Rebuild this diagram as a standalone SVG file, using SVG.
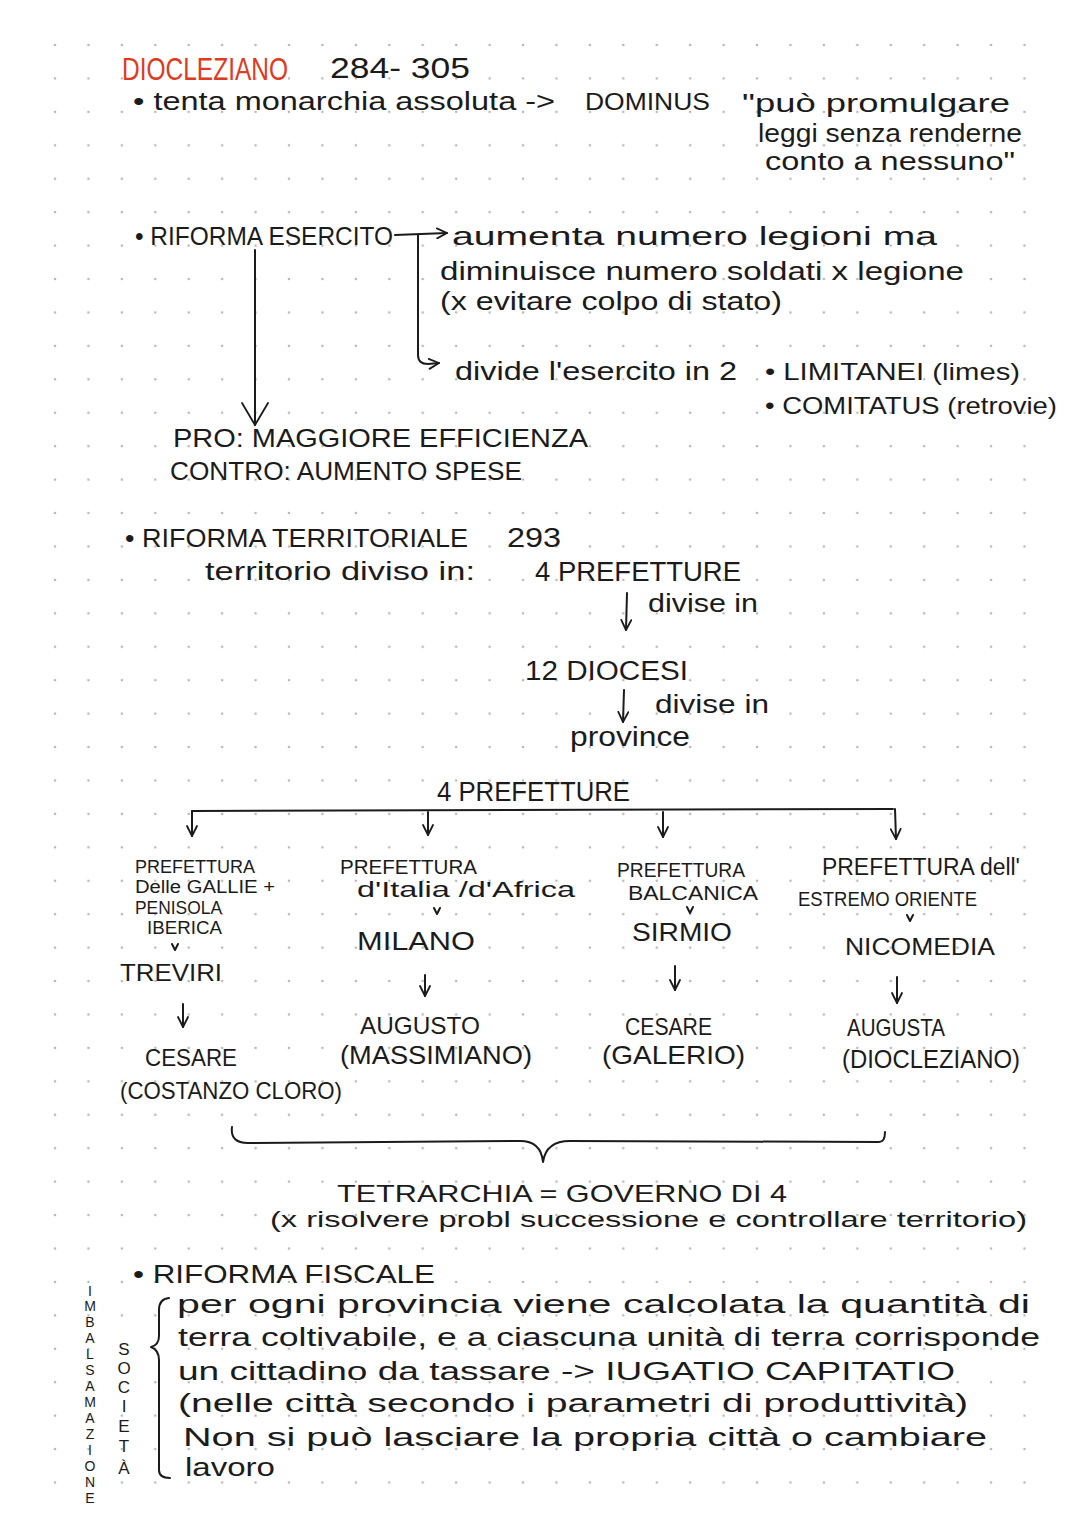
<svg xmlns="http://www.w3.org/2000/svg" width="1080" height="1527" viewBox="0 0 1080 1527">
<defs>
<style>
text{font-family:"Liberation Sans",Arial,sans-serif;fill:#1b1b1b}
.r{fill:#dd3b24}
.c{fill:none;stroke:#1b1b1b;stroke-width:2;stroke-linecap:round;stroke-linejoin:round}
.v{text-anchor:middle}
</style>
<pattern id="dots" patternUnits="userSpaceOnUse" x="38.3" y="28.3" width="33.43" height="33.43">
<circle cx="16.7" cy="16.7" r="1.3" fill="#b8b8b8"/>
</pattern>
<marker id="ah" viewBox="0 0 12 12" refX="11" refY="6" markerWidth="12" markerHeight="12" markerUnits="userSpaceOnUse" orient="auto">
<path d="M1,1 L11,6 L1,11" fill="none" stroke="#1b1b1b" stroke-width="1.8" stroke-linecap="round" stroke-linejoin="round"/>
</marker>
<marker id="ahL" viewBox="0 0 24 28" refX="23" refY="14" markerWidth="24" markerHeight="28" markerUnits="userSpaceOnUse" orient="auto">
<path d="M1,1 L23,14 L1,27" fill="none" stroke="#1b1b1b" stroke-width="1.8" stroke-linecap="round" stroke-linejoin="round"/>
</marker>
</defs>
<rect width="1080" height="1527" fill="#ffffff"/>
<rect x="38.3" y="28.3" width="1003" height="1471" fill="url(#dots)"/>

<g id="header">
<text class="r" x="122" y="80" font-size="32" textLength="166" lengthAdjust="spacingAndGlyphs">DIOCLEZIANO</text>
<text x="330" y="78" font-size="30" textLength="140" lengthAdjust="spacingAndGlyphs">284- 305</text>
</g>
<g id="monarchia">
<text x="133" y="110" font-size="26" textLength="422" lengthAdjust="spacingAndGlyphs">• tenta monarchia assoluta -&gt;</text>
<text x="585" y="110" font-size="24" textLength="125" lengthAdjust="spacingAndGlyphs">DOMINUS</text>
<text x="742" y="112" font-size="26" textLength="268" lengthAdjust="spacingAndGlyphs">"può promulgare</text>
<text x="758" y="142" font-size="25" textLength="264" lengthAdjust="spacingAndGlyphs">leggi senza renderne</text>
<text x="765" y="170" font-size="25" textLength="250" lengthAdjust="spacingAndGlyphs">conto a nessuno"</text>
</g>

<g id="esercito">
<text x="135" y="245" font-size="26" textLength="258" lengthAdjust="spacingAndGlyphs">• RIFORMA ESERCITO</text>
</g>
<g id="legioni">
<text x="452" y="245" font-size="26" textLength="485" lengthAdjust="spacingAndGlyphs">aumenta numero legioni ma</text>
<text x="440" y="280" font-size="26" textLength="524" lengthAdjust="spacingAndGlyphs">diminuisce numero soldati x legione</text>
<text x="440" y="310" font-size="26" textLength="342" lengthAdjust="spacingAndGlyphs">(x evitare colpo di stato)</text>
</g>
<g id="divide">
<text x="455" y="380" font-size="26" textLength="282" lengthAdjust="spacingAndGlyphs">divide l'esercito in 2</text>
<text x="765" y="380" font-size="24" textLength="255" lengthAdjust="spacingAndGlyphs">• LIMITANEI (limes)</text>
<text x="765" y="414" font-size="24" textLength="292" lengthAdjust="spacingAndGlyphs">• COMITATUS (retrovie)</text>
</g>
<g id="procontro">
<text x="173" y="447" font-size="25" textLength="415" lengthAdjust="spacingAndGlyphs">PRO: MAGGIORE EFFICIENZA</text>
<text x="170" y="480" font-size="25" textLength="352" lengthAdjust="spacingAndGlyphs">CONTRO: AUMENTO SPESE</text>
</g>

<g id="territoriale">
<text x="125" y="547" font-size="25" textLength="343" lengthAdjust="spacingAndGlyphs">• RIFORMA TERRITORIALE</text>
<text x="507" y="547" font-size="28" textLength="54" lengthAdjust="spacingAndGlyphs">293</text>
<text x="205" y="580" font-size="26" textLength="270" lengthAdjust="spacingAndGlyphs">territorio diviso in:</text>
</g>
<g id="prefetture1">
<text x="535" y="581" font-size="27" textLength="206" lengthAdjust="spacingAndGlyphs">4 PREFETTURE</text>
<text x="648" y="612" font-size="26" textLength="110" lengthAdjust="spacingAndGlyphs">divise in</text>
</g>
<g id="diocesi">
<text x="525" y="680" font-size="27" textLength="163" lengthAdjust="spacingAndGlyphs">12 DIOCESI</text>
<text x="655" y="713" font-size="26" textLength="114" lengthAdjust="spacingAndGlyphs">divise in</text>
</g>
<g id="province">
<text x="570" y="746" font-size="28" textLength="120" lengthAdjust="spacingAndGlyphs">province</text>
</g>

<g id="prefetture2">
<text x="437" y="801" font-size="27" textLength="193" lengthAdjust="spacingAndGlyphs">4 PREFETTURE</text>
</g>
<g id="col1">
<text x="135" y="873" font-size="18" textLength="120" lengthAdjust="spacingAndGlyphs">PREFETTURA</text>
<text x="135" y="893" font-size="18" textLength="140" lengthAdjust="spacingAndGlyphs">Delle GALLIE +</text>
<text x="135" y="914" font-size="18" textLength="87" lengthAdjust="spacingAndGlyphs">PENISOLA</text>
<text x="147" y="934" font-size="18" textLength="75" lengthAdjust="spacingAndGlyphs">IBERICA</text>
<text x="120" y="981" font-size="24" textLength="102" lengthAdjust="spacingAndGlyphs">TREVIRI</text>
<text x="145" y="1066" font-size="24" textLength="92" lengthAdjust="spacingAndGlyphs">CESARE</text>
<text x="120" y="1099" font-size="24" textLength="222" lengthAdjust="spacingAndGlyphs">(COSTANZO CLORO)</text>
</g>
<g id="col2">
<text x="340" y="874" font-size="21" textLength="137" lengthAdjust="spacingAndGlyphs">PREFETTURA</text>
<text x="357" y="897" font-size="22" textLength="218" lengthAdjust="spacingAndGlyphs">d'Italia /d'Africa</text>
<text x="357" y="950" font-size="25" textLength="118" lengthAdjust="spacingAndGlyphs">MILANO</text>
<text x="360" y="1034" font-size="24" textLength="120" lengthAdjust="spacingAndGlyphs">AUGUSTO</text>
<text x="340" y="1064" font-size="25" textLength="192" lengthAdjust="spacingAndGlyphs">(MASSIMIANO)</text>
</g>
<g id="col3">
<text x="617" y="877" font-size="21" textLength="128" lengthAdjust="spacingAndGlyphs">PREFETTURA</text>
<text x="628" y="900" font-size="21" textLength="130" lengthAdjust="spacingAndGlyphs">BALCANICA</text>
<text x="632" y="941" font-size="25" textLength="100" lengthAdjust="spacingAndGlyphs">SIRMIO</text>
<text x="625" y="1035" font-size="24" textLength="87" lengthAdjust="spacingAndGlyphs">CESARE</text>
<text x="602" y="1064" font-size="25" textLength="143" lengthAdjust="spacingAndGlyphs">(GALERIO)</text>
</g>
<g id="col4">
<text x="822" y="875" font-size="23" textLength="198" lengthAdjust="spacingAndGlyphs">PREFETTURA dell'</text>
<text x="798" y="906" font-size="20" textLength="179" lengthAdjust="spacingAndGlyphs">ESTREMO ORIENTE</text>
<text x="845" y="955" font-size="24" textLength="150" lengthAdjust="spacingAndGlyphs">NICOMEDIA</text>
<text x="847" y="1036" font-size="24" textLength="98" lengthAdjust="spacingAndGlyphs">AUGUSTA</text>
<text x="842" y="1068" font-size="25" textLength="178" lengthAdjust="spacingAndGlyphs">(DIOCLEZIANO)</text>
</g>
<g id="tetrarchia">
<text x="337" y="1202" font-size="24" textLength="450" lengthAdjust="spacingAndGlyphs">TETRARCHIA = GOVERNO DI 4</text>
<text x="270" y="1227" font-size="22" textLength="757" lengthAdjust="spacingAndGlyphs">(x risolvere probl successione e controllare territorio)</text>
</g>

<g id="fiscale">
<text x="133" y="1283" font-size="25" textLength="302" lengthAdjust="spacingAndGlyphs">• RIFORMA FISCALE</text>
<text x="177" y="1313" font-size="25" textLength="853" lengthAdjust="spacingAndGlyphs">per ogni provincia viene calcolata la quantità di</text>
<text x="178" y="1346" font-size="25" textLength="862" lengthAdjust="spacingAndGlyphs">terra coltivabile, e a ciascuna unità di terra corrisponde</text>
<text x="178" y="1380" font-size="25" textLength="777" lengthAdjust="spacingAndGlyphs">un cittadino da tassare -&gt; IUGATIO CAPITATIO</text>
<text x="178" y="1412" font-size="25" textLength="790" lengthAdjust="spacingAndGlyphs">(nelle città secondo i parametri di produttività)</text>
<text x="183" y="1446" font-size="25" textLength="804" lengthAdjust="spacingAndGlyphs">Non si può lasciare la propria città o cambiare</text>
<text x="185" y="1476" font-size="25" textLength="90" lengthAdjust="spacingAndGlyphs">lavoro</text>
</g>
<g id="side-imbalsamazione" font-size="14">
<text class="v" x="90" y="1296">I</text>
<text class="v" x="90" y="1311">M</text>
<text class="v" x="90" y="1327">B</text>
<text class="v" x="90" y="1343">A</text>
<text class="v" x="90" y="1359">L</text>
<text class="v" x="90" y="1375">S</text>
<text class="v" x="90" y="1391">A</text>
<text class="v" x="90" y="1407">M</text>
<text class="v" x="90" y="1423">A</text>
<text class="v" x="90" y="1439">Z</text>
<text class="v" x="90" y="1455">I</text>
<text class="v" x="90" y="1471">O</text>
<text class="v" x="90" y="1487">N</text>
<text class="v" x="90" y="1503">E</text>
</g>
<g id="side-societa" font-size="17">
<text class="v" x="124" y="1355">S</text>
<text class="v" x="124" y="1374">O</text>
<text class="v" x="124" y="1393">C</text>
<text class="v" x="124" y="1412">I</text>
<text class="v" x="124" y="1432">E</text>
<text class="v" x="124" y="1452">T</text>
<text class="v" x="124" y="1474">À</text>
</g>

<g id="connectors" class="c">
<path d="M395,235 L447,233" marker-end="url(#ah)"/>
<path d="M418,235 L418,355 Q418,364 428,364 L439,363" marker-end="url(#ah)"/>
<path d="M255,250 L255,425" marker-end="url(#ahL)"/>
<path d="M627,593 L626,630" marker-end="url(#ah)"/>
<path d="M624,690 L623,722" marker-end="url(#ah)"/>
<path d="M192,811 L893,809"/>
<path d="M192,811 L192,836" marker-end="url(#ah)"/>
<path d="M428,812 L428,835" marker-end="url(#ah)"/>
<path d="M663,812 L663,837" marker-end="url(#ah)"/>
<path d="M895,809 L896,839" marker-end="url(#ah)"/>
<path d="M172,944 L175,950 L178,944"/>
<path d="M434,908 L437,914 L440,908"/>
<path d="M687,907 L690,913 L693,907"/>
<path d="M907,915 L910,921 L913,915"/>
<path d="M183,1004 L183,1027" marker-end="url(#ah)"/>
<path d="M425,975 L425,996" marker-end="url(#ah)"/>
<path d="M675,966 L675,990" marker-end="url(#ah)"/>
<path d="M897,977 L897,1003" marker-end="url(#ah)"/>
<path d="M232,1127 Q230,1143 248,1143 L520,1141 Q541,1141 543,1162 Q546,1141 570,1141 L879,1142 Q885,1142 885,1132"/>
<path d="M169,1298 Q159,1299 159,1310 L159,1336 Q159,1345 151,1347 Q159,1350 159,1360 L159,1470 Q159,1478 170,1478"/>
</g>
</svg>
